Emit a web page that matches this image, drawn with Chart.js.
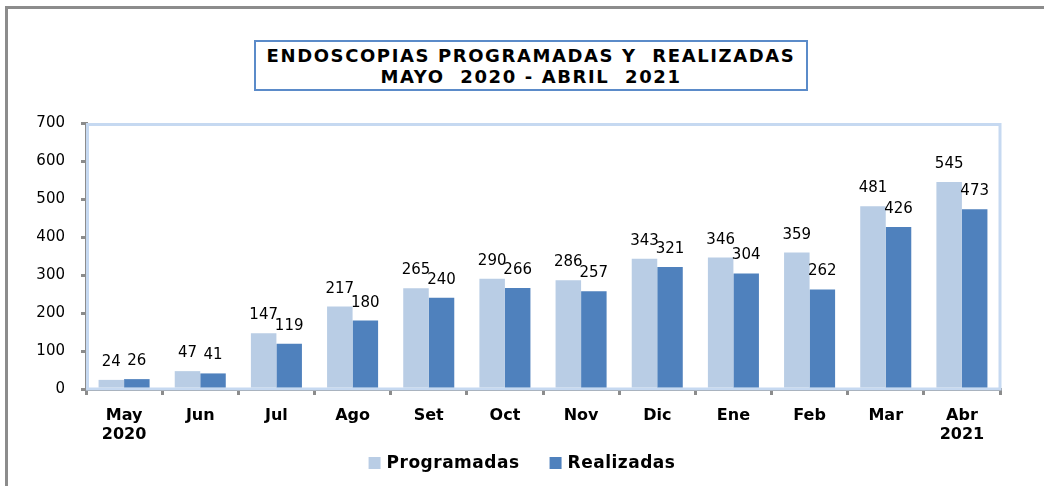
<!DOCTYPE html>
<html>
<head>
<meta charset="utf-8">
<script src="https://cdn.jsdelivr.net/npm/chart.js@4/dist/chart.umd.min.js"></script>
<style>
    body { margin: 0; background: #fff; }
    #wrap { position: relative; width: 1044px; height: 486px; overflow: hidden; }
    #frame { position: absolute; left: 5px; top: 6px; width: 1100px; height: 600px;
             border-left: 3px solid #8c8c8c; border-top: 3px solid #8c8c8c; }
    #titulo { position: absolute; left: 254px; top: 40px; width: 554px; height: 51px;
              box-sizing: border-box; border: 2px solid #5b8bc9;
              font-family: "DejaVu Sans", sans-serif; font-weight: bold; font-size: 18px;
              letter-spacing: 1.6px; line-height: 21px; text-align: center;
              padding-top: 3px; color: #000; white-space: nowrap; }
    canvas { position: absolute; left: 0; top: 0; }
</style>
</head>
<body>
<div id="wrap">
    <div id="frame"></div>
    <div id="titulo">ENDOSCOPIAS PROGRAMADAS Y &nbsp;REALIZADAS<br>MAYO &nbsp;2020 - ABRIL &nbsp;2021</div>
    <canvas id="grafico" width="1044" height="486"></canvas>
</div>
<script>
// datos
const meses = [['May', '2020'], 'Jun', 'Jul', 'Ago', 'Set', 'Oct', 'Nov', 'Dic', 'Ene', 'Feb', 'Mar', ['Abr', '2021']];
const programadas = [24, 47, 147, 217, 265, 290, 286, 343, 346, 359, 481, 545];
const realizadas = [26, 41, 119, 180, 240, 266, 257, 321, 304, 262, 426, 473];
const ticksY = [0, 100, 200, 300, 400, 500, 600, 700];

// borde celeste del area de trazado
const bordeArea = {
    id: 'bordeArea',
    beforeDatasetsDraw(chart) {
        const a = chart.chartArea;
        const ctx = chart.ctx;
        ctx.save();
        ctx.strokeStyle = '#c6d9f1';
        ctx.lineWidth = 3;
        ctx.strokeRect(a.left + 1.5, a.top + 1.5, a.right - a.left - 1.5, a.bottom - a.top - 1.5);
        ctx.restore();
    }
};

// etiquetas de valor sobre las barras
const etiquetas = {
    id: 'etiquetas',
    afterDatasetsDraw(chart) {
        const ctx = chart.ctx;
        ctx.save();
        ctx.font = '15px "DejaVu Sans"';
        ctx.fillStyle = '#000';
        ctx.textAlign = 'center';
        ctx.textBaseline = 'alphabetic';
        chart.data.datasets.forEach((ds, i) => {
            chart.getDatasetMeta(i).data.forEach((bar, j) => {
                ctx.fillText(ds.data[j], bar.x, bar.y - 14);
            });
        });
        ctx.restore();
    }
};

// leyenda abajo (dibujada a mano para controlar el espacio)
const leyenda = {
    id: 'leyenda',
    afterDraw(chart) {
        const ctx = chart.ctx;
        ctx.save();
        ctx.font = 'bold 17px "DejaVu Sans"';
        ctx.letterSpacing = '0.5px';
        ctx.textBaseline = 'middle';
        ctx.textAlign = 'left';
        const caja = 12, sep = 6, gap = 30, y = 463;
        const items = chart.data.datasets.map(ds => ({
            t: ds.label, c: ds.backgroundColor, w: ctx.measureText(ds.label).width
        }));
        const total = items.reduce((s, it) => s + caja + sep + it.w, 0) + gap * (items.length - 1);
        let x = chart.width / 2 - total / 2;
        items.forEach(it => {
            ctx.fillStyle = it.c;
            ctx.fillRect(x, y - 6, caja, caja);
            ctx.fillStyle = '#000';
            ctx.fillText(it.t, x + caja + sep, y + 1);
            x += caja + sep + it.w + gap;
        });
        ctx.restore();
    }
};

const data = {
    labels: meses,
    datasets: [
        {
            label: 'Programadas',
            data: programadas,
            backgroundColor: '#b9cde5',
            categoryPercentage: 0.67,
            barPercentage: 1.0,
        },
        {
            label: 'Realizadas',
            data: realizadas,
            backgroundColor: '#4f81bd',
            categoryPercentage: 0.67,
            barPercentage: 1.0,
        }
    ]
};

const config = {
    type: 'bar',
    data: data,
    options: {
        responsive: false,
        animation: false,
        layout: {
            padding: { top: 123, right: 44, left: 0, bottom: 37 }
        },
        plugins: {
            title: { display: false },
            tooltip: { enabled: false },
            legend: { display: false },
        },
        scales: {
            x: {
                grid: {
                    drawOnChartArea: false,
                    drawTicks: true,
                    tickLength: 6,
                    color: '#8c8c8c',
                    lineWidth: 3,
                },
                border: { color: '#8c8c8c', width: 3 },
                ticks: {
                    color: '#000',
                    maxRotation: 0,
                    padding: 12,
                    font: { family: '"DejaVu Sans"', size: 16, weight: 'bold', lineHeight: 1.15 },
                },
                afterFit: (s) => { s.height = 60; },
            },
            y: {
                min: 0,
                max: 700,
                afterBuildTicks: (s) => { s.ticks = ticksY.map(v => ({ value: v })); },
                grid: {
                    drawOnChartArea: false,
                    drawTicks: true,
                    tickLength: 5,
                    color: '#8c8c8c',
                    lineWidth: 3,
                },
                border: { color: '#8c8c8c', width: 3 },
                ticks: {
                    color: '#000',
                    padding: 16,
                    font: { family: '"DejaVu Sans"', size: 15 },
                },
                afterFit: (s) => { s.width = 86; },
            },
        },
    },
    plugins: [bordeArea, etiquetas, leyenda],
};

var ctx = document.getElementById('grafico').getContext('2d');
var grafico = new Chart(ctx, config);
</script>
</body>
</html>
